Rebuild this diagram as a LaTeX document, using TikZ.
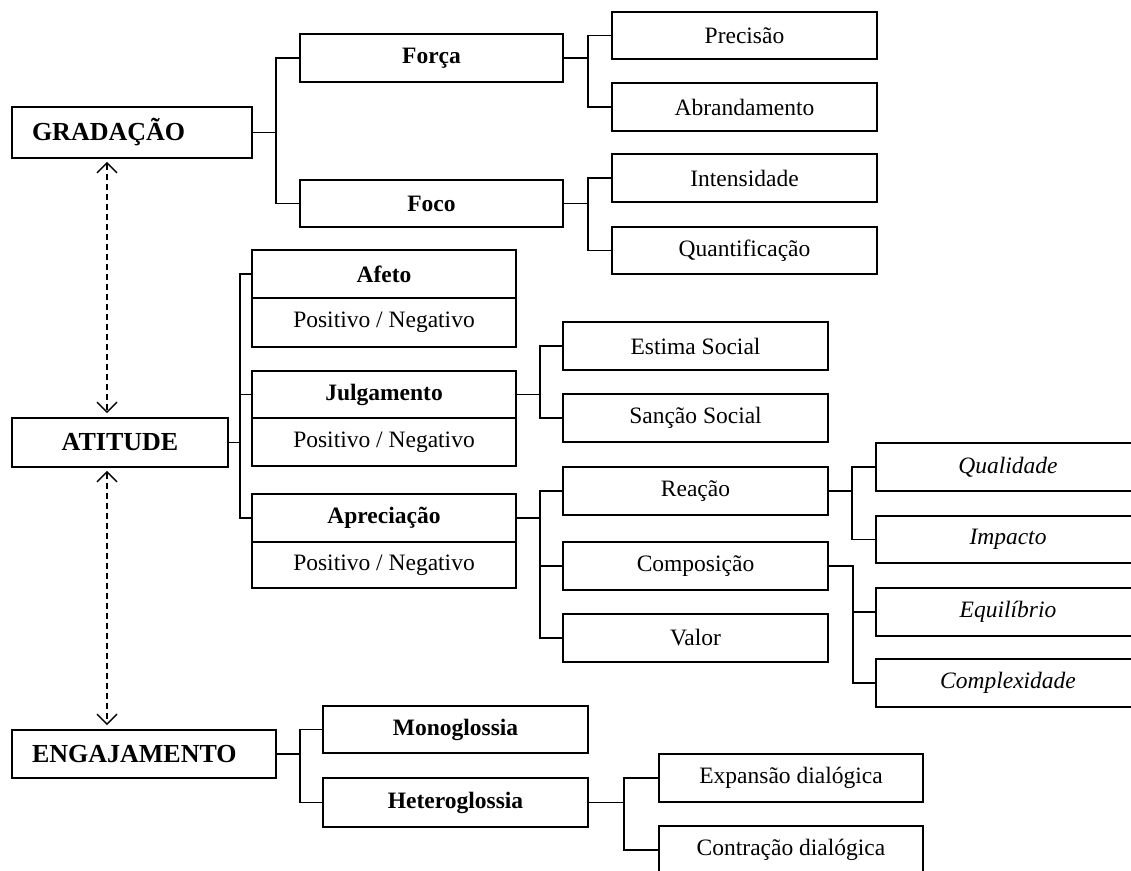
\documentclass[tikz,border=0pt]{standalone}
\usepackage{fontspec}
\setmainfont{Liberation Serif}
\usetikzlibrary{arrows.meta}
\tikzset{
  box/.style={draw, line width=1.8pt, inner sep=0pt, minimum height=48pt, minimum width=265pt, fill=white, font=\fontsize{23.5}{26}\selectfont},
  bbox/.style={box, font=\fontsize{23.5}{26}\selectfont\bfseries},
  ibox/.style={box, font=\fontsize{23.5}{26}\selectfont\itshape},
  head/.style={box, font=\fontsize{26}{30}\selectfont\bfseries},
  link/.style={line width=1.8pt},
  chev/.tip={Straight Barb[length=10pt,width=20pt,line width=1.4pt]},
  dasharrow/.style={line width=1.4pt, dash pattern=on 6pt off 4pt, chev-chev, shorten <=3pt, shorten >=4pt}
}
\begin{document}
\begin{tikzpicture}[x=1pt,y=-1pt]
\useasboundingbox (0,0) rectangle (1131,870);
\clip (0,0) rectangle (1131,870);
% top-level
\node[head, minimum width=0pt, text width=200pt, inner xsep=20pt, align=left, minimum height=51pt] (grad) at (132,132.5) {GRADAÇÃO};
\node[head, minimum width=216pt, minimum height=49pt] (atit) at (120,442.5) {ATITUDE};
\node[head, minimum width=0pt, text width=224pt, inner xsep=20pt, align=left] (engaj) at (144,754) {ENGAJAMENTO};
% gradacao
\node[bbox, minimum width=263pt] (forca) at (431.5,58) {Força};
\node[bbox, minimum width=263pt, minimum height=47pt] (foco) at (431.5,203.5) {Foco};
\node[box, minimum height=47pt] (prec) at (744.5,35.5) {Precisão};
\node[box] (abr) at (744.5,107) {Abrandamento};
\node[box] (inte) at (744.5,178) {Intensidade};
\node[box, minimum height=47pt] (quant) at (744.5,250.5) {Quantificação};
% atitude
\node[bbox, minimum width=264pt] (afetoT) at (384,274) {Afeto};
\node[box, minimum width=264pt, minimum height=49pt] (afetoB) at (384,322.5) {Positivo / Negativo};
\node[bbox, minimum width=264pt, minimum height=47pt] (julgT) at (384,394.5) {Julgamento};
\node[box, minimum width=264pt] (julgB) at (384,442) {Positivo / Negativo};
\node[bbox, minimum width=264pt] (apreT) at (384,518) {Apreciação};
\node[box, minimum width=264pt, minimum height=46pt] (apreB) at (384,565) {Positivo / Negativo};
\node[box] (estima) at (695.5,346) {Estima Social};
\node[box] (sancao) at (695.5,418) {Sanção Social};
\node[box] (reacao) at (695.5,491) {Reação};
\node[box] (compos) at (695.5,566) {Composição};
\node[box] (valor) at (695.5,638) {Valor};
\node[ibox, minimum width=264pt] (qual) at (1008,467) {Qualidade};
\node[ibox, minimum width=264pt, minimum height=47pt] (impacto) at (1008,539.5) {Impacto};
\node[ibox, minimum width=264pt] (equil) at (1008,612) {Equilíbrio};
\node[ibox, minimum width=264pt] (complex) at (1008,683) {Complexidade};
% engajamento
\node[bbox, minimum height=47pt] (mono) at (455.5,729.5) {Monoglossia};
\node[bbox, minimum height=49pt] (hetero) at (455.5,802.5) {Heteroglossia};
\node[box, minimum width=264pt] (expans) at (791,778) {Expansão dialógica};
\node[box, minimum width=264pt] (contr) at (791,850) {Contração dialógica};
% connectors
\draw[link] (grad.east) -- ++(23,0) |- (forca.west);
\draw[link] (grad.east) -- ++(23,0) |- (foco.west);
\draw[link] (forca.east) -- ++(24,0) |- (prec.west);
\draw[link] (forca.east) -- ++(24,0) |- (abr.west);
\draw[link] (foco.east) -- ++(24,0) |- (inte.west);
\draw[link] (foco.east) -- ++(24,0) |- (quant.west);
\draw[link] (atit.east) -- ++(11,0) |- (afetoT.west);
\draw[link] (atit.east) -- ++(11,0) |- (julgT.west);
\draw[link] (atit.east) -- ++(11,0) |- (apreT.west);
\draw[link] (julgT.east) -- ++(23,0) |- (estima.west);
\draw[link] (julgT.east) -- ++(23,0) |- (sancao.west);
\draw[link] (apreT.east) -- ++(23,0) |- (reacao.west);
\draw[link] (apreT.east) -- ++(23,0) |- (compos.west);
\draw[link] (apreT.east) -- ++(23,0) |- (valor.west);
\draw[link] (reacao.east) -- ++(23,0) |- (qual.west);
\draw[link] (reacao.east) -- ++(23,0) |- (impacto.west);
\draw[link] (compos.east) -- ++(24,0) |- (equil.west);
\draw[link] (compos.east) -- ++(24,0) |- (complex.west);
\draw[link] (engaj.east) -- ++(23,0) |- (mono.west);
\draw[link] (engaj.east) -- ++(23,0) |- (hetero.west);
\draw[link] (hetero.east) -- ++(35,0) |- (expans.west);
\draw[link] (hetero.east) -- ++(35,0) |- (contr.west);
% dashed arrows
\coordinate (ax) at (107,0);
\draw[dasharrow] (grad.south -| ax) -- (atit.north -| ax);
\draw[dasharrow] (atit.south -| ax) -- (engaj.north -| ax);
\end{tikzpicture}
\end{document}
